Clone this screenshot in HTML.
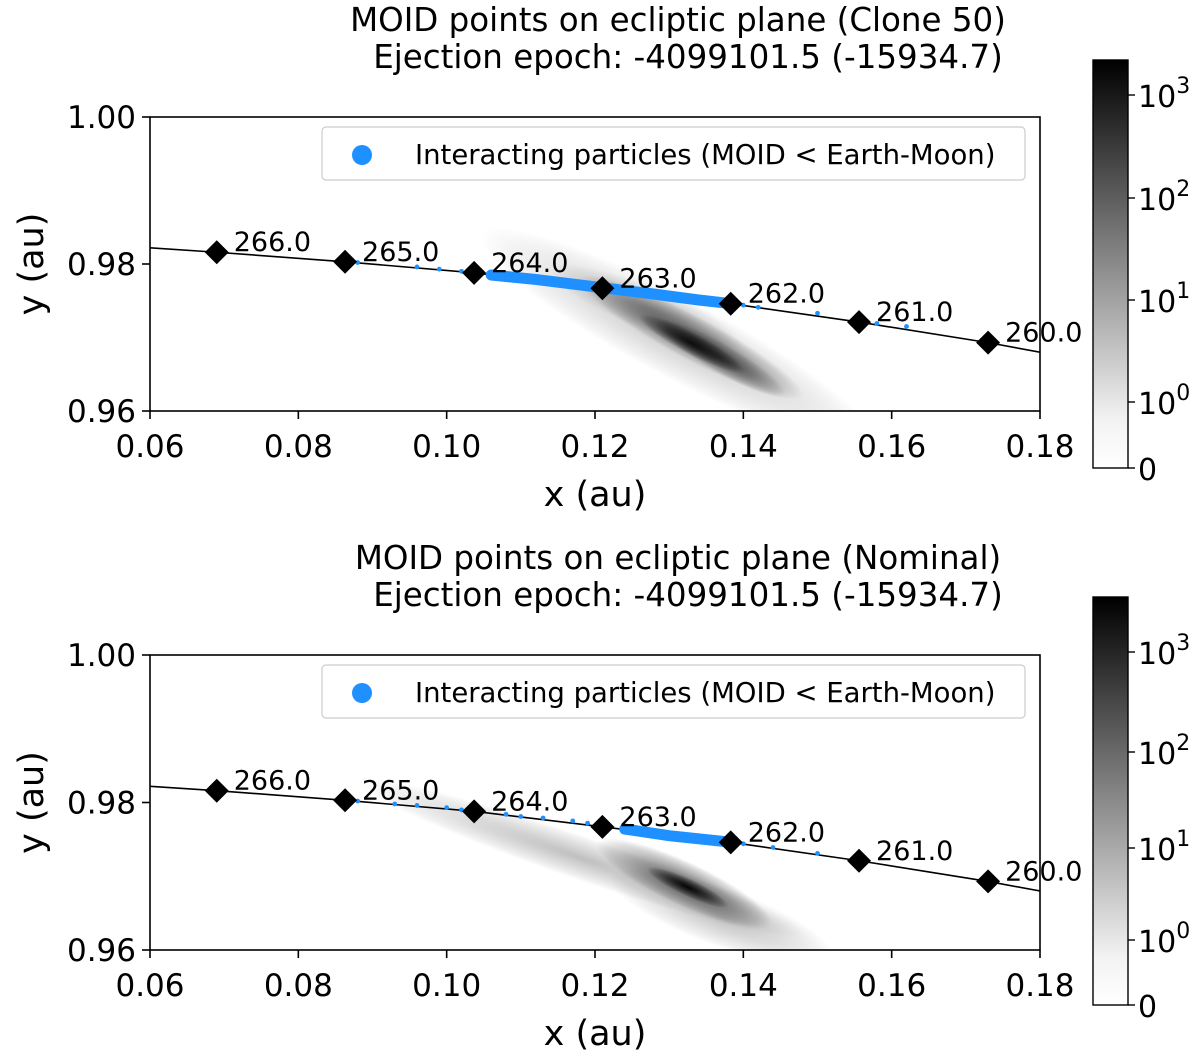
<!DOCTYPE html>
<html><head><meta charset="utf-8"><style>
body{margin:0;background:#fff;}
svg text{font-family:"DejaVu Sans","Liberation Sans",sans-serif;fill:#000;}
</style></head><body>
<svg id="chart" width="1200" height="1056" xmlns="http://www.w3.org/2000/svg">
<defs>
<radialGradient id="blob"><stop offset="0" stop-color="#000" stop-opacity="1"/><stop offset="0.5" stop-color="#000" stop-opacity="0.55"/><stop offset="0.85" stop-color="#000" stop-opacity="0.2"/><stop offset="1" stop-color="#000" stop-opacity="0"/></radialGradient>
<linearGradient id="cbar" x1="0" y1="1" x2="0" y2="0"><stop offset="0" stop-color="#fff"/><stop offset="0.12" stop-color="#f2f2f2"/><stop offset="0.5" stop-color="#8a8a8a"/><stop offset="1" stop-color="#000"/></linearGradient>
</defs>
</svg>
<script>
const epochLabels=["266.0","265.0","264.0","263.0","262.0","261.0","260.0"];
const epochX=[0.069,0.0863,0.1037,0.121,0.1383,0.1556,0.173];
const epochY=[0.9816,0.9803,0.9788,0.9767,0.9746,0.9721,0.9693];
const lineX=[0.06,0.069,0.0863,0.1037,0.121,0.1383,0.1556,0.173,0.18];
const lineY=[0.9822,0.9816,0.9803,0.9788,0.9767,0.9746,0.9721,0.9693,0.968];
const xTicks=[0.06,0.08,0.10,0.12,0.14,0.16,0.18];
const xTickLabels=["0.06","0.08","0.10","0.12","0.14","0.16","0.18"];
const yTicks=[0.96,0.98,1.00];
const yTickLabels=["0.96","0.98","1.00"];
const cbLabels=["10","10","10","10","0"];
const cbExp=["3","2","1","0",""];
// top panel density blobs
const topBlobX=[0.131,0.127,0.133,0.137,0.133];
const topBlobY=[0.9700,0.9740,0.9700,0.9672,0.9692];
const topBlobLen=[0.030,0.014,0.017,0.010,0.008];
const topBlobWid=[0.0055,0.0030,0.0030,0.0020,0.0015];
const topBlobAng=[28,22,28,30,28];
const topBlobOp=[0.22,0.2,0.55,0.5,0.85];
// bottom panel density blobs
const botBlobX=[0.118,0.137,0.132,0.1325];
const botBlobY=[0.9725,0.9645,0.9690,0.9685];
const botBlobLen=[0.032,0.016,0.013,0.006];
const botBlobWid=[0.0030,0.0040,0.0030,0.0012];
const botBlobAng=[19,20,25,25];
const botBlobOp=[0.25,0.25,0.6,0.95];
// interacting particle bands and sparse points
const topBandX=[0.106,0.112,0.120,0.128,0.134,0.1375];
const topBandY=[0.9785,0.9779,0.9769,0.9759,0.9751,0.9747];
const topDotX=[0.088,0.096,0.099,0.102,0.140,0.142,0.150,0.158,0.162];
const topDotY=[0.9802,0.9796,0.9793,0.9790,0.9744,0.9741,0.9733,0.9719,0.9715];
const botBandX=[0.124,0.130,0.1375];
const botBandY=[0.9764,0.9755,0.9747];
const botDotX=[0.088,0.093,0.096,0.100,0.102,0.108,0.110,0.113,0.117,0.119,0.122,0.140,0.144,0.150];
const botDotY=[0.9802,0.9798,0.9796,0.9793,0.9790,0.9784,0.9781,0.9779,0.9775,0.9772,0.9768,0.9744,0.9739,0.9731];

const svg=document.getElementById('chart');
const NS="http://www.w3.org/2000/svg";
function mk(tag,attrs,parent){const e=document.createElementNS(NS,tag);for(const k in attrs)e.setAttribute(k,attrs[k]);(parent||svg).appendChild(e);return e;}
const X0=150,X1=1040;
function sx(v){return X0+(v-0.06)/0.12*(X1-X0);}

function panel(name,top,bot,title,bx,by,bl,bw,ba,bo,bandX,bandY,dotX,dotY,cbTop,cbBot,cbY){
  const g=mk('g',{});
  
  
  const sy=v=>bot-(v-0.96)/0.04*(bot-top);
  const t1=mk('text',{x:678,y:top-86,'font-size':32.5,'text-anchor':'middle'},g);t1.textContent=title;
  
  const t2=mk('text',{x:688,y:top-49,'font-size':32.5,'text-anchor':'middle'},g);t2.textContent="Ejection epoch: -4099101.5 (-15934.7)";
  
  const clip=mk('clipPath',{id:'c'+name},g);mk('rect',{x:X0,y:top,width:X1-X0,height:bot-top},clip);
  const dens=mk('g',{'clip-path':'url(#c'+name+')'},g);
  
  for(let i=0;i<bx.length;i++){
    const e=mk('ellipse',{cx:sx(bx[i]),cy:sy(by[i]),rx:bl[i]/0.12*(X1-X0),ry:bw[i]/0.04*(bot-top),fill:'url(#blob)',opacity:bo[i],transform:`rotate(${ba[i]} ${sx(bx[i])} ${sy(by[i])})`},dens);
    
    
  }
  const pts=lineX.map((v,i)=>sx(v)+','+sy(lineY[i])).join(' ');
  const l=mk('polyline',{points:pts,fill:'none',stroke:'#000','stroke-width':1.6,'clip-path':'url(#c'+name+')'},g);
  
  const band=mk('polyline',{points:bandX.map((v,i)=>sx(v)+','+sy(bandY[i])).join(' '),fill:'none',stroke:'#1e90ff','stroke-width':11,'stroke-linecap':'round'},g);
  
  for(let i=0;i<dotX.length;i++){
    const d=mk('circle',{cx:sx(dotX[i]),cy:sy(dotY[i]),r:2.4,fill:'#1e90ff'},g);
    
    
  }
  for(let i=0;i<epochX.length;i++){
    const cx=sx(epochX[i]),cy=sy(epochY[i]);
    const m=mk('polygon',{points:`${cx},${cy-12} ${cx+12},${cy} ${cx},${cy+12} ${cx-12},${cy}`,fill:'#000'},g);
    
    
    const t=mk('text',{x:cx+17,y:cy-1,'font-size':27},g);t.textContent=epochLabels[i];
    
    
  }
  const lg=mk('g',{},g);
  
  mk('rect',{x:322,y:top+10,width:703,height:53,rx:4,fill:'#fff','fill-opacity':0.8,stroke:'#ccc','stroke-width':1.2},lg);
  mk('circle',{cx:362,cy:top+38,r:10,fill:'#1e90ff'},lg);
  const lt=mk('text',{x:415,y:top+47,'font-size':27.5},lg);lt.textContent="Interacting particles (MOID < Earth-Moon)";
  
  const fr=mk('rect',{x:X0,y:top,width:X1-X0,height:bot-top,fill:'none',stroke:'#000','stroke-width':1.6},g);
  
  for(let i=0;i<xTicks.length;i++){
    const x=sx(xTicks[i]);mk('line',{x1:x,y1:bot,x2:x,y2:bot+8,stroke:'#000','stroke-width':1.6},g);
    const t=mk('text',{x:x,y:bot+46,'font-size':31,'text-anchor':'middle'},g);t.textContent=xTickLabels[i];
    
    
  }
  for(let i=0;i<yTicks.length;i++){
    const y=sy(yTicks[i]);mk('line',{x1:X0-8,y1:y,x2:X0,y2:y,stroke:'#000','stroke-width':1.6},g);
    const t=mk('text',{x:X0-14,y:y+11,'font-size':31,'text-anchor':'end'},g);t.textContent=yTickLabels[i];
    
    
  }
  const xl=mk('text',{x:595,y:bot+95,'font-size':35,'text-anchor':'middle'},g);xl.textContent="x (au)";
  
  const yl=mk('text',{x:0,y:0,'font-size':35,'text-anchor':'middle',transform:`translate(43 ${(top+bot)/2}) rotate(-90)`},g);yl.textContent="y (au)";
  
  const cb=mk('g',{},g);
  
  mk('rect',{x:1093,y:cbTop,width:35,height:cbBot-cbTop,fill:'url(#cbar)',stroke:'#000','stroke-width':1.4},cb);
  for(let i=0;i<cbY.length;i++){
    mk('line',{x1:1128,y1:cbY[i],x2:1135,y2:cbY[i],stroke:'#000','stroke-width':1.4},cb);
    const t=mk('text',{x:1138,y:cbY[i]+12,'font-size':30},cb);
    t.textContent=cbLabels[i];
    if(cbExp[i]){const s=mk('tspan',{dy:-14,'font-size':22},t);s.textContent=cbExp[i];}
    
    
  }
}
panel('top-panel',117,411,"MOID points on ecliptic plane (Clone 50)",topBlobX,topBlobY,topBlobLen,topBlobWid,topBlobAng,topBlobOp,topBandX,topBandY,topDotX,topDotY,60,468,[95,198,300,402,468]);
panel('bottom-panel',655,950,"MOID points on ecliptic plane (Nominal)",botBlobX,botBlobY,botBlobLen,botBlobWid,botBlobAng,botBlobOp,botBandX,botBandY,botDotX,botDotY,597,1005,[652,752,848,940,1005]);
</script>
</body></html>
